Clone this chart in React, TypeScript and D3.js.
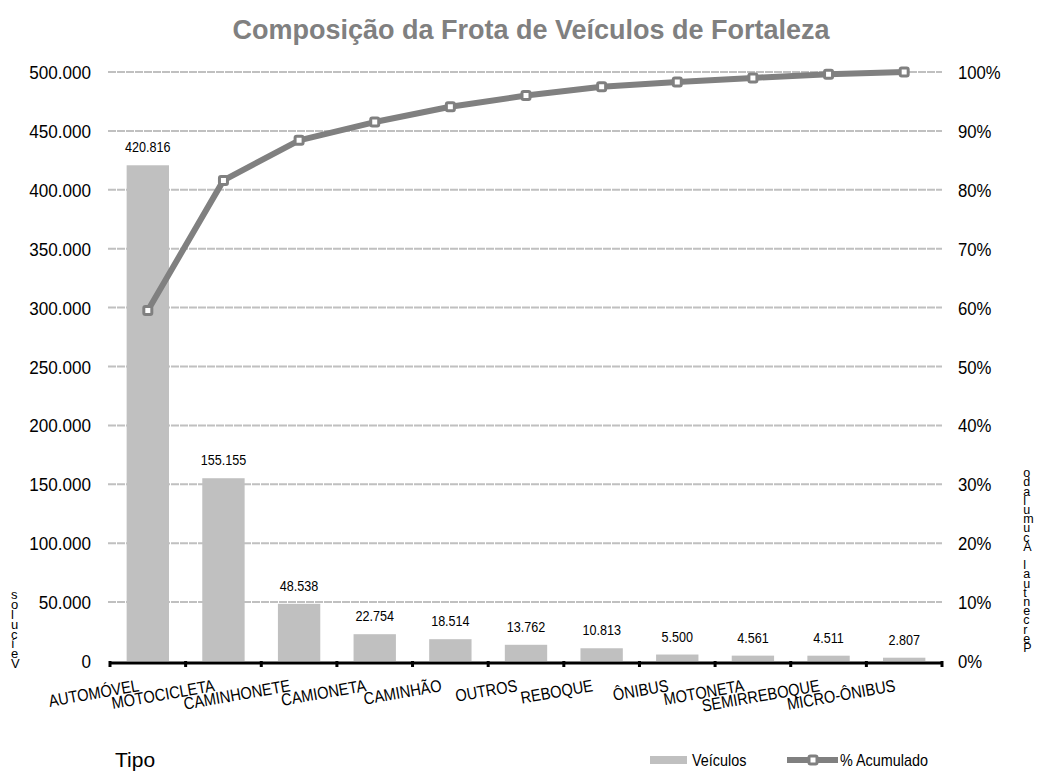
import React from "react";
import * as d3 from "d3";

const categories = ["AUTOMÓVEL", "MOTOCICLETA", "CAMINHONETE", "CAMIONETA", "CAMINHÃO", "OUTROS", "REBOQUE", "ÔNIBUS", "MOTONETA", "SEMIRREBOQUE", "MICRO-ÔNIBUS"];
const vehicles = [420816, 155155, 48538, 22754, 18514, 13762, 10813, 5500, 4561, 4511, 2807];
const cumulativePct = [59.5, 81.6, 88.4, 91.5, 94.1, 96.0, 97.5, 98.3, 99.0, 99.6, 100];
const leftTicks = [0, 50000, 100000, 150000, 200000, 250000, 300000, 350000, 400000, 450000, 500000];
const rightTicks = [0, 10, 20, 30, 40, 50, 60, 70, 80, 90, 100];
const title = "Composição da Frota de Veículos de Fortaleza";
const leftTitle = "Veículos";
const rightTitle = "Percentual Acumulado";
const xTitle = "Tipo";
const legendBar = "Veículos";
const legendLine = "% Acumulado";

const W = 1037;
const H = 771;
const X0 = 110;
const X1 = 942;
const Y0 = 661;
const YTOP = 72;
const SANS = "'Liberation Sans', Arial, sans-serif";
const GRAY = "#808080";
const BAR = "#c0c0c0";

const locale = d3.formatLocale({ decimal: ",", thousands: ".", grouping: [3], currency: ["R$", ""] });
const fmt = locale.format(",d");

type NTProps = {
  x: number;
  y: number;
  size: number;
  sx?: number;
  rot?: number;
  anchor?: "start" | "middle" | "end";
  children: React.ReactNode;
};

function NText({ x, y, size, sx = 0.88, rot = 0, anchor = "start", children }: NTProps) {
  return (
    <text
      transform={`translate(${x},${y}) rotate(${rot}) scale(${sx},1)`}
      textAnchor={anchor}
      fontFamily={SANS}
      fontSize={size}
      fill="#000"
    >
      {children}
    </text>
  );
}

// Upright letters stacked from bottom to top, as one text element.
function StackedText({ text, x, yBottom, gap, size }: { text: string; x: number; yBottom: number; gap: number; size: number }) {
  const chars = text.split("");
  const xs = chars.map((_, i) => (i * gap).toFixed(1)).join(" ");
  return (
    <text
      transform={`translate(${x - size * 0.3},${yBottom}) rotate(-90)`}
      x={xs}
      y={0}
      rotate="90"
      fontFamily={SANS}
      fontSize={size}
      fill="#000"
    >
      {text}
    </text>
  );
}

export default function App() {
  const x = d3.scaleBand<string>().domain(categories).range([X0, X1]).padding(0);
  const step = x.step();
  const y = d3.scaleLinear().domain([0, 500000]).range([Y0, YTOP]);
  const yr = d3.scaleLinear().domain([0, 100]).range([Y0, YTOP]);
  const cx = (c: string) => (x(c) as number) + step / 2;

  const line = d3
    .line<number>()
    .x((_, i) => cx(categories[i]))
    .y((d) => yr(d));

  const boundaries = d3.range(categories.length + 1).map((i) => X0 + i * step);

  return (
    <svg width={W} height={H} style={{ position: "absolute", left: 0, top: 0, background: "#fff" }}>
      <text x={531} y={39} textAnchor="middle" fontFamily={SANS} fontWeight="bold" fontSize={27} fill={GRAY}>
        {title}
      </text>

      {leftTicks.map((t) =>
        t === 0 ? null : (
          <line key={"g" + t} x1={X0 - 2} x2={X1} y1={y(t)} y2={y(t)} stroke={BAR} strokeWidth={2} strokeDasharray="8,1" />
        )
      )}

      {leftTicks.map((t) => (
        <NText key={"l" + t} x={91} y={y(t) + 7} size={19} sx={0.9} anchor="end">
          {fmt(t)}
        </NText>
      ))}
      {rightTicks.map((t) => (
        <NText key={"r" + t} x={958} y={yr(t) + 7} size={19} sx={0.88} anchor="start">
          {t + "%"}
        </NText>
      ))}

      {categories.map((c, i) => (
        <rect key={"b" + c} x={(x(c) as number) + step * 0.22} width={step * 0.56} y={y(vehicles[i])} height={Y0 - y(vehicles[i])} fill={BAR} />
      ))}
      {categories.map((c, i) => (
        <NText key={"v" + c} x={cx(c)} y={y(vehicles[i]) - 13} size={14} sx={0.9} anchor="middle">
          {fmt(vehicles[i])}
        </NText>
      ))}

      <line x1={X0 - 1} x2={X1 + 1} y1={663} y2={663} stroke="#000" strokeWidth={3} />
      {boundaries.map((b, i) => (
        <line key={"t" + i} x1={b} x2={b} y1={661} y2={667} stroke="#000" strokeWidth={3} />
      ))}

      {categories.map((c) => (
        <NText key={"x" + c} x={cx(c) - 8} y={691} size={17} sx={0.86} rot={-10} anchor="end">
          {c}
        </NText>
      ))}

      <path d={line(cumulativePct) || ""} fill="none" stroke={GRAY} strokeWidth={6} strokeLinejoin="round" />
      {cumulativePct.map((p, i) => (
        <rect key={"m" + i} x={cx(categories[i]) - 4} y={yr(p) - 4} width={8} height={8} rx={1.5} fill="#fff" stroke={GRAY} strokeWidth={3} />
      ))}

      <StackedText text={leftTitle} x={15} yBottom={668} gap={9.8} size={13} />
      <StackedText text={rightTitle} x={1027} yBottom={652} gap={9.2} size={12.5} />

      <text x={115} y={767} fontFamily={SANS} fontSize={21} fill="#000">
        {xTitle}
      </text>

      <rect x={650} y={756} width={37} height={8} fill={BAR} />
      <NText x={692} y={766} size={16} sx={0.9}>
        {legendBar}
      </NText>
      <line x1={787} x2={838} y1={760} y2={760} stroke={GRAY} strokeWidth={6} />
      <rect x={809} y={756} width={8} height={8} rx={1.5} fill="#fff" stroke={GRAY} strokeWidth={3} />
      <NText x={840} y={766} size={16} sx={0.9}>
        {legendLine}
      </NText>
    </svg>
  );
}
